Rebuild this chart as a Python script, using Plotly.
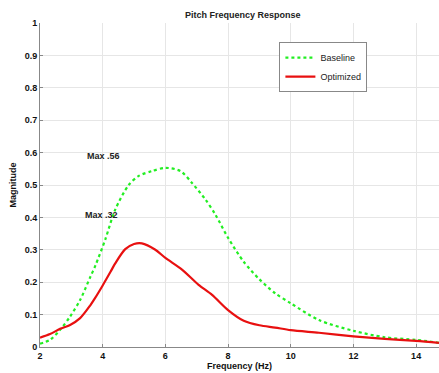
import plotly.graph_objects as go

freq_base = [2.0, 2.32, 2.64, 2.96, 3.28, 3.6, 3.77, 4.08, 4.4, 4.83, 5.15, 5.57, 6.0, 6.48, 6.85, 7.28, 7.6, 8.0, 8.5, 9.0, 9.5, 10.0, 10.9, 12.0, 13.0, 14.0, 14.73]
mag_base = [0.01, 0.022, 0.053, 0.094, 0.145, 0.215, 0.252, 0.331, 0.424, 0.5, 0.528, 0.543, 0.553, 0.543, 0.506, 0.455, 0.408, 0.337, 0.263, 0.209, 0.166, 0.135, 0.083, 0.05, 0.03, 0.022, 0.013]

freq_opt = [2.0, 2.32, 2.64, 2.96, 3.28, 3.6, 3.75, 4.0, 4.25, 4.4, 4.72, 5.0, 5.25, 5.68, 6.0, 6.53, 7.06, 7.49, 8.0, 8.5, 9.0, 9.5, 10.0, 10.9, 12.0, 13.0, 14.0, 14.73]
mag_opt = [0.029, 0.04, 0.056, 0.068, 0.089, 0.128, 0.15, 0.19, 0.232, 0.258, 0.302, 0.318, 0.32, 0.3, 0.275, 0.239, 0.192, 0.161, 0.114, 0.081, 0.067, 0.06, 0.052, 0.044, 0.033, 0.025, 0.019, 0.013]

x_ticks = [2, 4, 6, 8, 10, 12, 14]
y_ticks = [0, 0.1, 0.2, 0.3, 0.4, 0.5, 0.6, 0.7, 0.8, 0.9, 1]
y_tick_labels = ["0", "0.1", "0.2", "0.3", "0.4", "0.5", "0.6", "0.7", "0.8", "0.9", "1"]

notes = [("Max .56", 4.03, 0.59), ("Max .32", 3.95, 0.407)]

font_family = "Liberation Sans, Arial, sans-serif"

fig = go.Figure()
fig.add_trace(go.Scatter(x=freq_base, y=mag_base, mode="lines", name="Baseline",
                         line=dict(color="#22ee22", width=2.2, dash="dot", shape="spline", smoothing=0.8)))
fig.add_trace(go.Scatter(x=freq_opt, y=mag_opt, mode="lines", name="Optimized",
                         line=dict(color="#e81010", width=2.2, shape="spline", smoothing=0.8)))

for txt, xx, yy in notes:
    fig.add_annotation(x=xx, y=yy, text="<b>" + txt + "</b>", showarrow=False,
                       font=dict(size=9, color="#222222", family=font_family))

fig.update_layout(
    width=439, height=373,
    margin=dict(l=40, r=0, t=23, b=26),
    paper_bgcolor="white", plot_bgcolor="white",
    title=dict(text="<b>Pitch Frequency Response</b>", x=0.553, xanchor="center", y=0.96, yanchor="middle",
               font=dict(size=9, color="#222222", family=font_family)),
    font=dict(family=font_family, color="#222222"),
    legend=dict(x=0.6, y=0.941, xanchor="left", yanchor="top",
                bordercolor="#888888", borderwidth=1, bgcolor="white",
                font=dict(size=9, color="#222222", family=font_family),
                itemwidth=30, tracegroupgap=0),
    showlegend=True,
)
fig.update_xaxes(range=[2, 14.73], tickvals=x_ticks, ticktext=[f"<b>{v}</b>" for v in x_ticks],
                 showgrid=True, gridcolor="#e6e6e6", gridwidth=1,
                 showline=True, linecolor="#888888", linewidth=1,
                 ticks="inside", ticklen=3, tickcolor="#888888",
                 tickfont=dict(size=9, color="#111111"),
                 title=dict(text="<b>Frequency (Hz)</b>", font=dict(size=9, color="#111111"), standoff=2),
                 zeroline=False)
fig.update_yaxes(range=[0, 1], tickvals=y_ticks, ticktext=[f"<b>{t}</b>" for t in y_tick_labels],
                 showgrid=True, gridcolor="#e6e6e6", gridwidth=1,
                 showline=True, linecolor="#888888", linewidth=1,
                 ticks="inside", ticklen=3, tickcolor="#888888",
                 tickfont=dict(size=9, color="#111111"),
                 title=dict(text="<b>Magnitude</b>", font=dict(size=9, color="#111111"), standoff=6),
                 zeroline=False)

fig.write_html("out.html", config={"displayModeBar": False},
               post_script="document.body.style.margin='0';document.body.style.overflow='hidden';")
